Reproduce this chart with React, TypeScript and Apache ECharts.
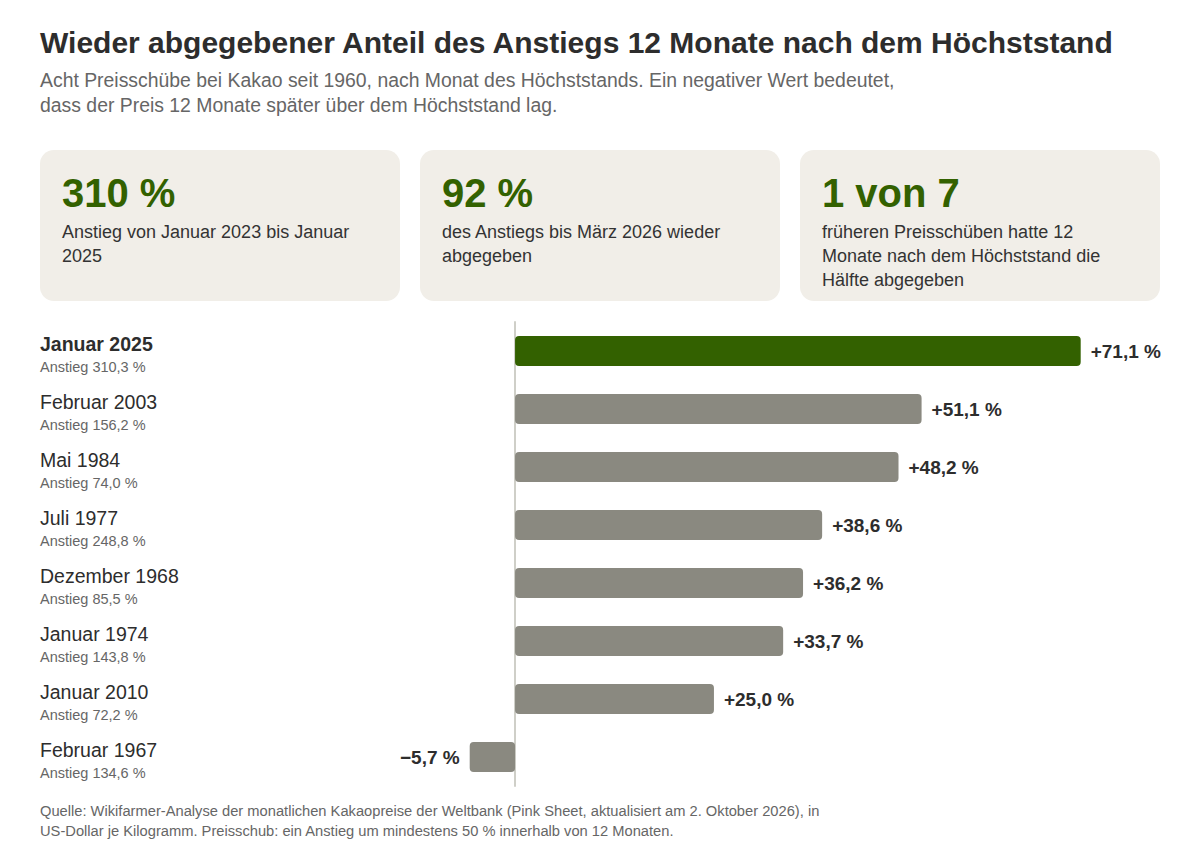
import React, { useEffect, useRef } from "react";
import * as echarts from "echarts";

const categories = ["Januar 2025", "Februar 2003", "Mai 1984", "Juli 1977", "Dezember 1968", "Januar 1974", "Januar 2010", "Februar 1967"];
const rises = ["310,3", "156,2", "74,0", "248,8", "85,5", "143,8", "72,2", "134,6"];
const values = [71.1, 51.1, 48.2, 38.6, 36.2, 33.7, 25.0, -5.7];

const cardValues = ["310 %", "92 %", "1 von 7"];
const cardTexts = [
  "Anstieg von Januar 2023 bis Januar\n2025",
  "des Anstiegs bis März 2026 wieder\nabgegeben",
  "früheren Preisschüben hatte 12\nMonate nach dem Höchststand die\nHälfte abgegeben",
];

const TITLE = "Wieder abgegebener Anteil des Anstiegs 12 Monate nach dem Höchststand";
const SUBTITLE = "Acht Preisschübe bei Kakao seit 1960, nach Monat des Höchststands. Ein negativer Wert bedeutet,\ndass der Preis 12 Monate später über dem Höchststand lag.";
const FOOTER = "Quelle: Wikifarmer-Analyse der monatlichen Kakaopreise der Weltbank (Pink Sheet, aktualisiert am 2. Oktober 2026), in\nUS-Dollar je Kilogramm. Preisschub: ein Anstieg um mindestens 50 % innerhalb von 12 Monaten.";

const FONT = "'Liberation Sans', Arial, Helvetica, sans-serif";
const GREEN = "#336100";
const GREY = "#8a8980";

function fmt(v: number): string {
  const s = Math.abs(v).toFixed(1).replace(".", ",");
  return (v < 0 ? "\u2212" : "+") + s + " %";
}

export default function App() {
  const ref = useRef<HTMLDivElement>(null);
  useEffect(() => {
    document.body.style.margin = "0";
    const chart = echarts.init(ref.current!, null, { renderer: "svg" });
    const cards: any[] = [];
    cardValues.forEach((v, i) => {
      const x = 40 + i * 380;
      cards.push({
        type: "rect",
        shape: { x, y: 150, width: 360, height: 151, r: 14 },
        style: { fill: "#f1eee8" },
        z: 0,
      });
      cards.push({
        type: "text",
        x: x + 22,
        y: 193,
        style: { text: v, font: `bold 40px ${FONT}`, fill: GREEN, verticalAlign: "middle" },
      });
      cards.push({
        type: "text",
        x: x + 22,
        y: 220,
        style: { text: cardTexts[i], font: `18px ${FONT}`, fill: "#333333", lineHeight: 24, verticalAlign: "top" },
      });
    });
    chart.setOption({
      animation: false,
      textStyle: { fontFamily: FONT },
      grid: { left: 435.5, right: 48.5, top: 322, bottom: 82, containLabel: false, outerBoundsMode: "none" },
      xAxis: { type: "value", min: -10, max: 80, show: false },
      yAxis: {
        type: "category",
        data: categories,
        inverse: true,
        axisLine: { show: true, onZero: true, lineStyle: { color: "#cfcfc8", width: 2 } },
        axisTick: { show: false },
        axisLabel: {
          align: "left",
          margin: 395.5,
          padding: [6, 0, 0, 0],
          formatter: (val: string, idx: number) =>
            (idx === 0 ? `{a|${val}}` : `{n|${val}}`) + `\n{b|Anstieg ${rises[idx]} %}`,
          rich: {
            a: { fontSize: 19.5, fontWeight: "bold", color: "#2d2d2d", lineHeight: 26, fontFamily: FONT },
            n: { fontSize: 19.5, color: "#2d2d2d", lineHeight: 26, fontFamily: FONT },
            b: { fontSize: 14.5, color: "#666666", lineHeight: 20, fontFamily: FONT },
          },
        },
      },
      series: [
        {
          type: "bar",
          barWidth: 30,
          data: values.map((v, i) => ({
            value: v,
            itemStyle: { color: i === 0 ? GREEN : GREY, borderRadius: 4 },
            label: { position: v < 0 ? "left" : "right" },
          })),
          label: {
            show: true,
            distance: 10,
            formatter: (p: any) => fmt(p.value),
            fontSize: 19,
            fontWeight: "bold",
            color: "#2d2d2d",
            fontFamily: FONT,
          },
        },
      ],
      graphic: [
        {
          type: "text",
          x: 40,
          y: 42,
          style: { text: TITLE, font: `bold 30px ${FONT}`, fill: "#2d2d2d", verticalAlign: "middle" },
        },
        {
          type: "text",
          x: 40,
          y: 67,
          style: { text: SUBTITLE, font: `19.4px ${FONT}`, fill: "#666666", lineHeight: 25, verticalAlign: "top" },
        },
        ...cards,
        {
          type: "text",
          x: 40,
          y: 801,
          style: { text: FOOTER, font: `14.7px ${FONT}`, fill: "#666666", lineHeight: 20, verticalAlign: "top" },
        },
      ],
    });
    return () => chart.dispose();
  }, []);
  return <div ref={ref} style={{ width: 1200, height: 868 }} />;
}
